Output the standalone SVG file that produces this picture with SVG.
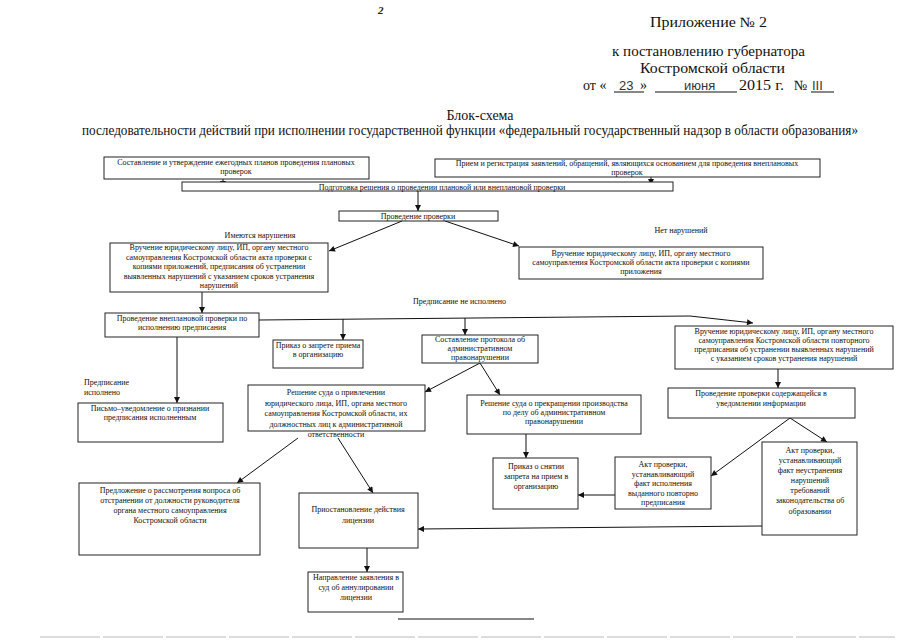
<svg xmlns="http://www.w3.org/2000/svg" width="905" height="640" viewBox="0 0 905 640">
<defs>
<marker id="ah" viewBox="0 0 10 10" refX="10" refY="5" markerWidth="7" markerHeight="6" markerUnits="userSpaceOnUse" orient="auto"><path d="M0,0 L10,5 L0,10 z" fill="#111"/></marker>
<style>
.bx{fill:#fff;stroke:#222;stroke-width:1}
.t{font-family:"Liberation Serif","Times New Roman",serif;font-size:8px;fill:#111;text-anchor:middle}
.tl{font-family:"Liberation Serif","Times New Roman",serif;font-size:8px;fill:#111}
.h{font-family:"Liberation Serif","Times New Roman",serif;font-size:14px;fill:#111}
.hs{font-family:"Liberation Sans",Arial,sans-serif;font-size:13px;fill:#333}
.c{fill:none;stroke:#111;stroke-width:1;marker-end:url(#ah)}
.ln{fill:none;stroke:#111;stroke-width:1}
</style>
</defs>
<rect width="905" height="640" fill="#fff"/>
<g id="header">
<text x="378" y="14" font-family="Liberation Serif,serif" font-style="italic" font-weight="bold" font-size="11" fill="#222">2</text>
<text class="h" x="650" y="27" textLength="117" lengthAdjust="spacingAndGlyphs">Приложение  № 2</text>
<text class="h" x="612" y="56" textLength="193" lengthAdjust="spacingAndGlyphs">к постановлению губернатора</text>
<text class="h" x="640" y="73" textLength="145" lengthAdjust="spacingAndGlyphs">Костромской области</text>
<text class="h" x="583" y="90">от  «</text>
<text class="hs" x="619" y="90">23</text>
<text class="h" x="640" y="90">»</text>
<text class="hs" x="684" y="90" font-size="11">июня</text>
<text class="h" x="739" y="90" textLength="45" lengthAdjust="spacingAndGlyphs">2015 г.</text>
<text class="h" x="794" y="90">№</text>
<text class="hs" x="812" y="90" font-size="12">III</text>
<path class="ln" d="M614,92 H644 M655,92 H737 M811,92 H834" stroke-width="0.8"/>
<text class="h" x="480" y="120" font-size="11" text-anchor="middle">Блок-схема</text>
<text class="h" x="82" y="135" font-size="12" textLength="776" lengthAdjust="spacingAndGlyphs">последовательности действий при исполнении государственной функции «федеральный государственный надзор в области образования»</text>
</g>
<g id="connectors">
<path class="c" d="M223,179 V187"/>
<path class="c" d="M651,177 V185"/>
<path class="c" d="M418,191 V211"/>
<path class="c" d="M402,221 L329,251"/>
<path class="c" d="M445,221 L519,246"/>
<path class="c" d="M202,292 V313"/>
<path class="c" d="M259,320 L690,316 L753,323"/>
<path class="c" d="M343,319 V340"/>
<path class="c" d="M465,318 V335"/>
<path class="c" d="M177,337 V403"/>
<path class="c" d="M480,363 L425,392"/>
<path class="c" d="M480,363 L500,395"/>
<path class="c" d="M778,369 V388"/>
<path class="c" d="M790,418 L711,476"/>
<path class="c" d="M790,418 L827,442"/>
<path class="c" d="M615,495 H578"/>
<path class="c" d="M526,434 V458"/>
<path class="c" d="M298,438 L237,483"/>
<path class="c" d="M338,438 L373,493"/>
<path class="c" d="M762,526 L418,529"/>
<path class="c" d="M367,548 V572"/>
</g>
<g id="nodeA"><rect class="bx" x="104" y="157" width="265" height="22"/>
<text class="t" x="236" y="165">Составление и утверждение ежегодных планов проведения плановых</text>
<text class="t" x="236" y="174">проверок</text></g>
<g id="nodeB"><rect class="bx" x="435" y="159" width="385" height="18"/>
<text class="t" x="627" y="166">Прием и регистрация  заявлений, обращений, являющихся основанием для проведения внеплановых</text>
<text class="t" x="627" y="175">проверок</text></g>
<g id="nodeC"><rect class="bx" x="182" y="182" width="491" height="9"/>
<text class="t" x="442" y="189.5">Подготовка решения о проведении плановой или внеплановой проверки</text></g>
<g id="nodeD"><rect class="bx" x="339" y="211" width="159" height="10"/>
<text class="t" x="418" y="219">Проведение проверки</text></g>
<text class="t" x="260" y="238">Имеются нарушения</text>
<text class="t" x="681" y="233">Нет нарушений</text>
<g id="nodeE"><rect class="bx" x="110" y="243" width="218" height="49"/>
<text class="t" x="219" y="250">Вручение юридическому лицу, ИП, органу местного</text>
<text class="t" x="219" y="259.5">самоуправления Костромской области акта проверки с</text>
<text class="t" x="219" y="269">копиями приложений, предписания об устранении</text>
<text class="t" x="219" y="278.5">выявленных нарушений с указанием сроков устранения</text>
<text class="t" x="219" y="288">нарушений</text></g>
<g id="nodeF"><rect class="bx" x="519" y="247" width="244" height="32"/>
<text class="t" x="641" y="256">Вручение юридическому лицу, ИП, органу местного</text>
<text class="t" x="641" y="265">самоуправления Костромской области акта проверки с копиями</text>
<text class="t" x="641" y="274">приложения</text></g>
<text class="tl" x="413" y="304">Предписание не исполнено</text>
<g id="nodeG"><rect class="bx" x="105" y="313" width="154" height="24"/>
<text class="t" x="182" y="321">Проведение внеплановой проверки по</text>
<text class="t" x="182" y="330">исполнению предписания</text></g>
<g id="nodeI"><rect class="bx" x="273" y="340" width="90" height="28"/>
<text class="t" x="318" y="348">Приказ о запрете приема</text>
<text class="t" x="318" y="357">в организацию</text></g>
<g id="nodeJ"><rect class="bx" x="422" y="335" width="116" height="28"/>
<text class="t" x="480" y="342">Составление протокола об</text>
<text class="t" x="480" y="351">административном</text>
<text class="t" x="480" y="360">правонарушении</text></g>
<g id="nodeH"><rect class="bx" x="675" y="326" width="218" height="43"/>
<text class="t" x="784" y="334">Вручение юридическому лицу, ИП, органу местного</text>
<text class="t" x="784" y="343">самоуправления Костромской области повторного</text>
<text class="t" x="784" y="352">предписания об устранении выявленных нарушений</text>
<text class="t" x="784" y="361">с указанием сроков устранения нарушений</text></g>
<text class="tl" x="84" y="385">Предписание</text>
<text class="tl" x="84" y="395">исполнено</text>
<g id="nodeU"><rect class="bx" x="78" y="403" width="145" height="39"/>
<text class="t" x="150" y="411">Письмо–уведомление о признании</text>
<text class="t" x="150" y="420">предписания исполненным</text></g>
<g id="nodeK"><rect class="bx" x="248" y="385" width="177" height="46"/>
<text class="t" x="336" y="395">Решение суда о  привлечении</text>
<text class="t" x="336" y="405.5">юридического лица, ИП, органа местного</text>
<text class="t" x="336" y="416">самоуправления Костромской области, их</text>
<text class="t" x="336" y="426.5">должностных лиц к административной</text>
<text class="t" x="336" y="437">ответственности</text></g>
<g id="nodeM"><rect class="bx" x="467" y="395" width="174" height="39"/>
<text class="t" x="554" y="406">Решение суда  о прекращении производства</text>
<text class="t" x="554" y="415">по делу об административном</text>
<text class="t" x="554" y="424">правонарушении</text></g>
<g id="nodeN"><rect class="bx" x="668" y="388" width="187" height="30"/>
<text class="t" x="761" y="396">Проведение проверки содержащейся   в</text>
<text class="t" x="761" y="406">уведомлении информации</text></g>
<g id="nodeL"><rect class="bx" x="493" y="458" width="85" height="51"/>
<text class="t" x="536" y="469">Приказ о снятии</text>
<text class="t" x="536" y="479">запрета на прием в</text>
<text class="t" x="536" y="489">организацию</text></g>
<g id="nodeP"><rect class="bx" x="615" y="457" width="96" height="52"/>
<text class="t" x="663" y="467">Акт проверки,</text>
<text class="t" x="663" y="476.5">устанавливающий</text>
<text class="t" x="663" y="486">факт исполнения</text>
<text class="t" x="663" y="495.5">выданного повторно</text>
<text class="t" x="663" y="505">предписания</text></g>
<g id="nodeQ"><rect class="bx" x="762" y="442" width="95" height="93"/>
<text class="t" x="810" y="453">Акт проверки,</text>
<text class="t" x="810" y="463">устанавливающий</text>
<text class="t" x="810" y="473">факт неустранения</text>
<text class="t" x="810" y="483">нарушений</text>
<text class="t" x="810" y="493">требований</text>
<text class="t" x="810" y="503">законодательства об</text>
<text class="t" x="810" y="514">образовании</text></g>
<g id="nodeR"><rect class="bx" x="79" y="483" width="181" height="72"/>
<text class="t" x="170" y="493">Предложение о рассмотрения вопроса об</text>
<text class="t" x="170" y="503">отстранении от должности руководителя</text>
<text class="t" x="170" y="513">органа местного самоуправления</text>
<text class="t" x="170" y="523">Костромской области</text></g>
<g id="nodeS"><rect class="bx" x="299" y="493" width="119" height="55"/>
<text class="t" x="358" y="512">Приостановление  действия</text>
<text class="t" x="358" y="523">лицензии</text></g>
<g id="nodeT"><rect class="bx" x="308" y="572" width="95" height="40"/>
<text class="t" x="356" y="580">Направление заявления в</text>
<text class="t" x="356" y="590">суд об аннулировании</text>
<text class="t" x="356" y="600">лицензии</text></g>
<path class="ln" d="M398,619 H534"/>
<path d="M40,637 H895" stroke="#bbb" stroke-width="1" stroke-dasharray="60,3"/>
</svg>
